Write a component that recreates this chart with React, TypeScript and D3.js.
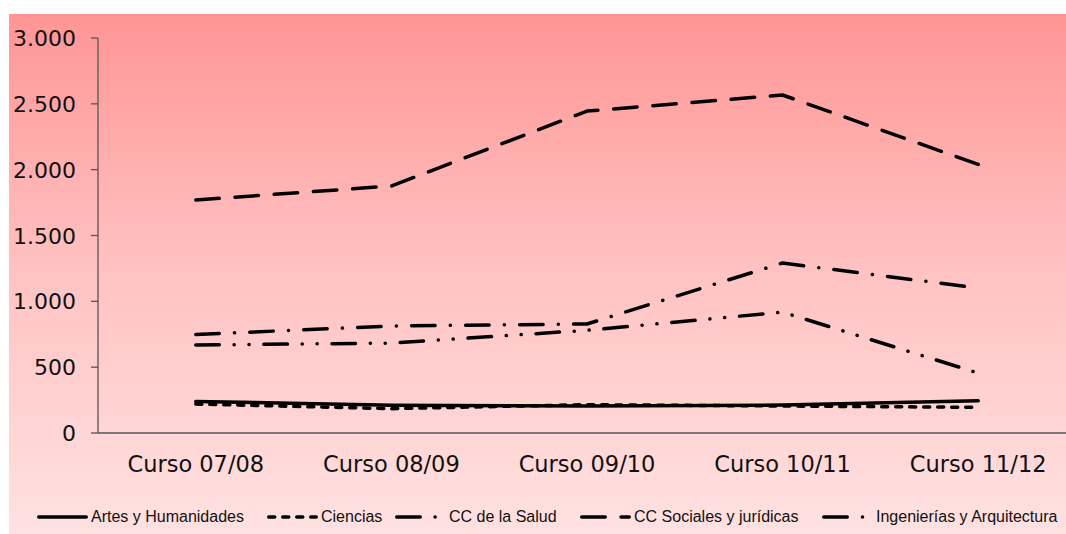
import React from "react";
import * as d3 from "d3";

const categories = ["Curso 07/08", "Curso 08/09", "Curso 09/10", "Curso 10/11", "Curso 11/12"];
const yTicks = [0, 500, 1000, 1500, 2000, 2500, 3000];
const seriesNames = [
  "Artes y Humanidades",
  "Ciencias",
  "CC de la Salud",
  "CC Sociales y jurídicas",
  "Ingenierías y Arquitectura",
];
const artes = [240, 210, 205, 212, 245];
const ciencias = [220, 185, 215, 205, 195];
const salud = [668, 683, 780, 918, 455];
const sociales = [1770, 1876, 2445, 2567, 2040];
const ingenierias = [748, 813, 828, 1291, 1101];

const seriesValues = [artes, ciencias, salud, sociales, ingenierias];
const dashes = [
  "none",
  "6 8",
  "23.5 14.8 0.1 14.8 0.1 14.8",
  "23.5 15.8",
  "23.5 15.2 0.1 15.2",
];
const legendX = [37, 267, 395, 580, 822];

const fmt = (v: number) => (v >= 1000 ? d3.format(",")(v).replace(/,/g, ".") : String(v));

export default function App() {
  const x = d3.scalePoint<string>().domain(categories).range([98, 1076]).padding(0.5);
  const y = d3.scaleLinear().domain([0, 3000]).range([433, 38]);
  const line = d3
    .line<number>()
    .x((_, i) => x(categories[i]) as number)
    .y((d) => y(d));

  return (
    <svg
      width={1066}
      height={534}
      style={{ position: "absolute", left: 0, top: 0, background: "#fff" }}
    >
      <defs>
        <linearGradient id="bg" x1="0" y1="0" x2="0" y2="1">
          <stop offset="0" stopColor="#FF9595" />
          <stop offset="0.5" stopColor="#FFC3C3" />
          <stop offset="1" stopColor="#FFE2E2" />
        </linearGradient>
      </defs>
      <rect x={9} y={14} width={1070} height={525} fill="url(#bg)" />

      {/* axes */}
      <line x1={98} x2={98} y1={y(3000)} y2={y(0)} stroke="#555" strokeWidth={1.3} />
      <line x1={98} x2={1076} y1={y(0)} y2={y(0)} stroke="#555" strokeWidth={1.3} />
      {yTicks.map((t) => (
        <g key={t}>
          <line x1={91} x2={98} y1={y(t)} y2={y(t)} stroke="#555" strokeWidth={1.3} />
          <text
            x={76}
            y={y(t) + 8}
            textAnchor="end"
            fontFamily="DejaVu Sans"
            fontSize={22}
            fill="#111"
          >
            {fmt(t)}
          </text>
        </g>
      ))}
      {categories.map((c) => (
        <text
          key={c}
          x={x(c) as number}
          y={472}
          textAnchor="middle"
          fontFamily="DejaVu Sans"
          fontSize={22.5}
          fill="#111"
        >
          {c}
        </text>
      ))}

      {/* series */}
      {seriesValues.map((vals, i) => (
        <path
          key={seriesNames[i]}
          d={line(vals) as string}
          fill="none"
          stroke="#000"
          strokeWidth={3.5}
          strokeLinecap="round"
          strokeLinejoin="round"
          strokeDasharray={dashes[i]}
        />
      ))}

      {/* legend */}
      {seriesNames.map((n, i) => (
        <g key={n}>
          <line
            x1={legendX[i] + 1.75}
            x2={legendX[i] + 49.25}
            y1={517}
            y2={517}
            stroke="#000"
            strokeWidth={3.5}
            strokeLinecap="round"
            strokeDasharray={dashes[i]}
          />
          <text
            x={legendX[i] + 54}
            y={522}
            fontFamily="Liberation Sans, Arial"
            fontSize={16}
            fill="#111"
          >
            {n}
          </text>
        </g>
      ))}
    </svg>
  );
}
